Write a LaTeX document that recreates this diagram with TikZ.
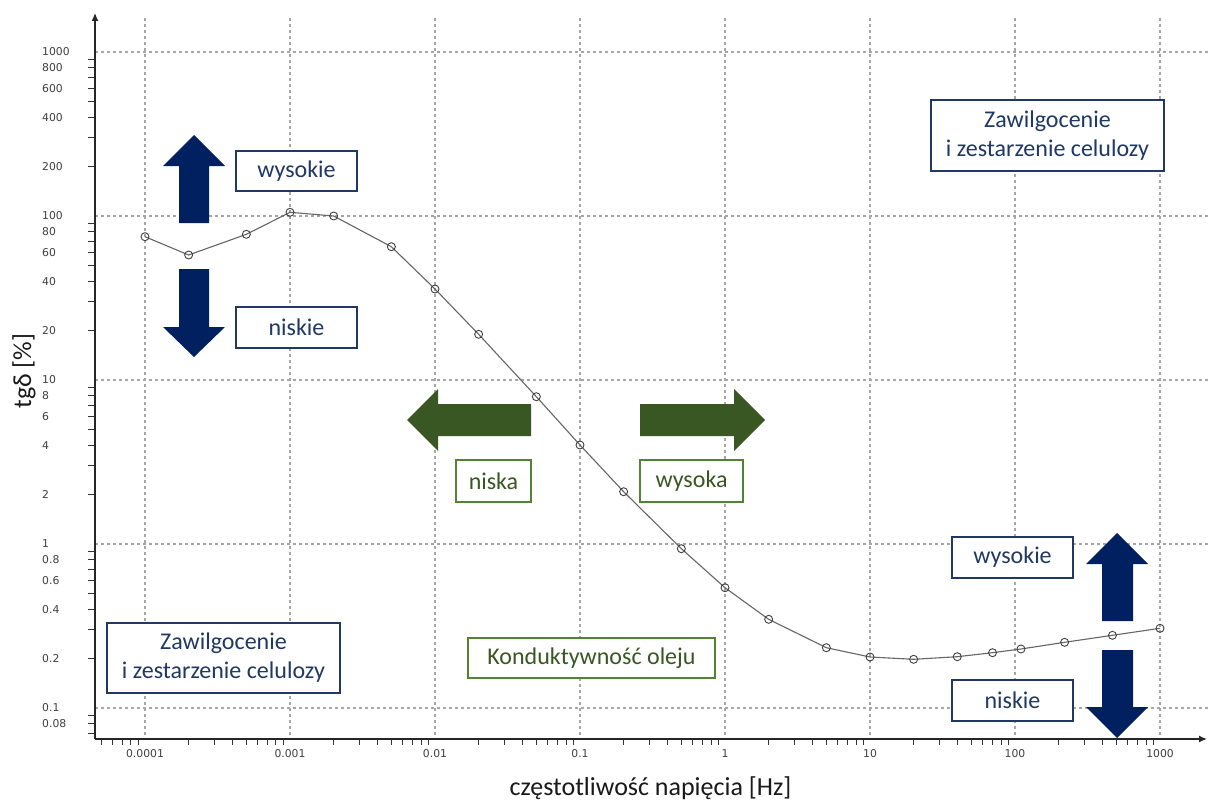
\documentclass[tikz,border=0pt]{standalone}
\usepackage{fontspec}
\setmainfont{Carlito}
\newfontfamily\tickfont{DejaVu Sans}
\usetikzlibrary{arrows.meta}
\definecolor{navy}{HTML}{002060}
\definecolor{navytext}{HTML}{1F3864}
\definecolor{darkgreen}{HTML}{385723}
\definecolor{greenborder}{HTML}{548235}
\definecolor{gridgray}{HTML}{A6A6A6}
\begin{document}
\begin{tikzpicture}[x=1pt,y=-1pt,
  gridline/.style={gridgray, line width=1.2pt, dash pattern=on 3pt off 3pt},
  axisline/.style={black!85, line width=1.3pt, -{Latex[length=8pt,width=7pt]}},
  tickline/.style={black!80, line width=0.9pt},
  ticklabel/.style={font=\tickfont\fontsize{10.8}{12}\selectfont, text=black!75, inner sep=0pt},
  bluebox/.style={draw=navytext, line width=1.2pt, fill=white, text=navytext, font=\fontsize{24}{29}\selectfont, align=center, inner sep=0pt},
  greenbox/.style={draw=greenborder, line width=1.2pt, fill=white, text=darkgreen, font=\fontsize{24}{29}\selectfont, inner sep=0pt},
  bluearrow/.style={fill=navy},
  greenarrow/.style={fill=darkgreen},
  curveline/.style={black!60, line width=1.1pt},
  marker/.style={black!75, line width=0.9pt},
  axistitle/.style={font=\fontsize{26}{30}\selectfont, text=black!90, inner sep=0pt}
]
\fill[white] (0,0) rectangle (1208,800);
\useasboundingbox (0,0) rectangle (1208,800);

% grid
\foreach \k in {1,...,8} \draw[gridline] ({145*\k},18) -- ({145*\k},739);
\foreach \yy in {52,216,380,544,708} \draw[gridline] (95,\yy) -- (1208,\yy);

% ticks
\foreach \d in {-2,...,3} \foreach \m in {2,...,9} {
  \pgfmathsetmacro\yy{544-164*(\d+log10(\m))}
  \ifdim\yy pt<739pt \ifdim\yy pt>40pt \draw[tickline] (88,\yy) -- (95,\yy); \fi\fi
}
\foreach \d in {-5,...,2} \foreach \m in {2,...,9} {
  \pgfmathsetmacro\xx{725+145*(\d+log10(\m))}
  \ifdim\xx pt>96pt \draw[tickline] (\xx,739) -- (\xx,745); \fi
}

% axes
\coordinate (o) at (95,739);
\coordinate (ytop) at (95,13);
\coordinate (xend) at (1207,739);
\draw[axisline] (o) -- (ytop);
\draw[axisline] (o) -- (xend);

% tick labels
\foreach \lab/\lv [count=\k] in {1000/3, 800/2.90309, 600/2.77815, 400/2.60206, 200/2.30103, 100/2, 80/1.90309, 60/1.77815, 40/1.60206, 20/1.30103, 10/1, 8/0.90309, 6/0.77815, 4/0.60206, 2/0.30103, 1/0, 0.8/-0.09691, 0.6/-0.22185, 0.4/-0.39794, 0.2/-0.69897, 0.1/-1, 0.08/-1.09691}
  \node[ticklabel, anchor=west] (yl\k) at (42,{544-164*\lv}) {\lab};
\foreach \lab [count=\k] in {0.0001,0.001,0.01,0.1,1,10,100,1000}
  \node[ticklabel] (xl\k) at ({145*\k},754) {\lab};

% axis titles
\node[axistitle, rotate=90] (ytitle) at (24,371) {tgδ [\%]};
\node[axistitle, anchor=base] (xtitle) at (650.5,795) {częstotliwość napięcia [Hz]};

% data curve
\foreach \lf/\py [count=\i] in {-4/236.7, -3.699/255, -3.301/234.3, -3/212.3, -2.699/216, -2.301/246.7, -2/289, -1.699/334.3, -1.301/396.7, -1/445, -0.699/491.7, -0.301/548.7, 0/587.7, 0.301/619.3, 0.699/647.7, 1/657, 1.301/659.3, 1.602/656.7, 1.845/652.7, 2.041/649, 2.342/642.3, 2.672/635.3, 3/628.3}
  \coordinate (p\i) at ({725+145*\lf},\py);
\draw[curveline] (p1) \foreach \i in {2,...,23} { -- (p\i) };
\foreach \i in {1,...,23} \draw[marker] (p\i) circle[radius=4pt];

% blue arrows
\fill[bluearrow] (179,223) -- (179,166) -- (163,166) -- (194,135) -- (225,166) -- (209,166) -- (209,223) -- cycle;
\fill[bluearrow] (179,269) -- (209,269) -- (209,327) -- (225,327) -- (194,357) -- (163,327) -- (179,327) -- cycle;
\fill[bluearrow] (1102,621) -- (1102,564) -- (1086,564) -- (1117,533) -- (1148,564) -- (1133,564) -- (1133,621) -- cycle;
\fill[bluearrow] (1102,650) -- (1133,650) -- (1133,707) -- (1148,707) -- (1117,738) -- (1086,707) -- (1102,707) -- cycle;

% green arrows
\fill[greenarrow] (531,404) -- (438,404) -- (438,389) -- (407,420) -- (438,451) -- (438,436) -- (531,436) -- cycle;
\fill[greenarrow] (640,404) -- (734,404) -- (734,389) -- (765,420) -- (734,451) -- (734,436) -- (640,436) -- cycle;

% boxes
\node[bluebox, minimum width=121pt, minimum height=40pt] (wys1) at (296.5,171) {wysokie};
\node[bluebox, minimum width=121pt, minimum height=41pt] (nis1) at (296.5,327.5) {niskie};
\node[bluebox, minimum width=233pt, minimum height=70pt] (zaw1) at (223.5,658) {Zawilgocenie\\i zestarzenie celulozy};
\node[bluebox, minimum width=233pt, minimum height=71pt] (zaw2) at (1047.5,135.5) {Zawilgocenie\\i zestarzenie celulozy};
\node[bluebox, minimum width=121pt, minimum height=41pt] (wys2) at (1012.5,557.5) {wysokie};
\node[bluebox, minimum width=121pt, minimum height=41pt] (nis2) at (1012.5,700.5) {niskie};
\node[greenbox, minimum width=75pt, minimum height=42pt] (niska) at (493.5,481) {niska};
\node[greenbox, minimum width=103pt, minimum height=42pt] (wysoka) at (691.5,481) {wysoka};
\node[greenbox, minimum width=247pt, minimum height=40pt] (kond) at (591.5,658) {Konduktywność oleju};
\end{tikzpicture}
\end{document}
